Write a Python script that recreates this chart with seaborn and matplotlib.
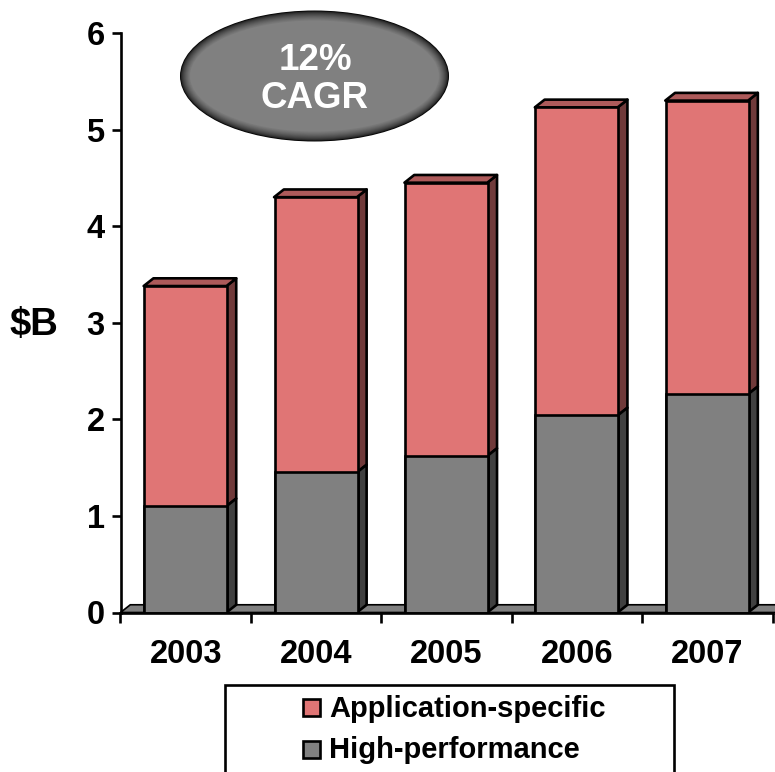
import matplotlib
matplotlib.use("Agg")
import matplotlib.pyplot as plt
from matplotlib.patches import Ellipse, Polygon, Rectangle
import numpy as np
import pandas as pd
import seaborn as sns

years = ["2003", "2004", "2005", "2006", "2007"]
high_performance = [1.10, 1.45, 1.62, 2.04, 2.26]
application_specific = [2.28, 2.85, 2.83, 3.19, 3.04]
y_ticks = [0, 1, 2, 3, 4, 5, 6]
series_names = ["Application-specific", "High-performance"]

PINK, PINK_TOP, PINK_SIDE = "#E07575", "#AD5A5A", "#703A3A"
GRAY, GRAY_TOP, GRAY_SIDE = "#808080", "#6E6E6E", "#404040"
BAR_W = 0.635
DX, DY = 0.075, 0.08   # extrusion of the pseudo-3D boxes, in data units
LW = 1.9

sns.set_theme(style="white")
plt.rcParams["font.family"] = ["Liberation Sans", "DejaVu Sans"]
plt.rcParams["font.weight"] = "bold"

df = pd.DataFrame({"year": years, "high": high_performance, "app": application_specific})
df["total"] = df["high"] + df["app"]

fig = plt.figure(figsize=(7.75, 7.72), dpi=100)
fig.patch.set_facecolor("white")
ax = fig.add_axes([120.5 / 775, 1 - 612.5 / 772, 652 / 775, 579.5 / 772])

# Floor strip running behind the columns
ax.add_patch(Polygon([(-0.5, 0), (-0.5 + DX, DY), (4.6, DY), (4.6, 0)], closed=True,
                     facecolor=GRAY, edgecolor="black", lw=1.2, zorder=1, clip_on=False))

sns.barplot(data=df, x="year", y="total", color=PINK, saturation=1, width=BAR_W,
            edgecolor="black", linewidth=LW, ax=ax, zorder=3)
sns.barplot(data=df, x="year", y="high", color=GRAY, saturation=1, width=BAR_W,
            edgecolor="black", linewidth=LW, ax=ax, zorder=4)


def extrude(x, y0, y1, top_col, side_col, with_top=True):
    """Draw the right side (and optionally the top) of a box centred on x."""
    r = x + BAR_W / 2 - 0.005
    l = x - BAR_W / 2 - 0.005
    ax.add_patch(Polygon([(r, y0), (r + DX, y0 + DY), (r + DX, y1 + DY), (r, y1)], closed=True,
                         facecolor=side_col, edgecolor="black", lw=LW, zorder=2.5,
                         joinstyle="round"))
    if with_top:
        ax.add_patch(Polygon([(l, y1), (l + DX, y1 + DY), (r + DX, y1 + DY), (r, y1)], closed=True,
                             facecolor=top_col, edgecolor="black", lw=LW, zorder=2.5,
                             joinstyle="round"))


for i, row in df.iterrows():
    extrude(i, row["high"], row["total"], PINK_TOP, PINK_SIDE)
    extrude(i, 0, row["high"], GRAY_TOP, GRAY_SIDE, with_top=False)

ax.set_xlim(-0.5, 4.5)
ax.set_ylim(0, 6)
ax.set_xlabel("")
ax.set_ylabel("")
for side in ("top", "right"):
    ax.spines[side].set_visible(False)
for side in ("left", "bottom"):
    ax.spines[side].set_linewidth(LW)
    ax.spines[side].set_color("black")
    ax.spines[side].set_zorder(6)

ax.set_yticks(y_ticks)
ax.set_yticklabels([str(t) for t in y_ticks], fontsize=23.5, fontweight="bold", color="black")
ax.tick_params(axis="y", left=True, length=6.5, width=LW, color="black", pad=5)

# Year labels sit between the tick marks
ax.set_xticks(np.arange(-0.5, 5.0, 1.0))
ax.set_xticklabels([])
ax.set_xticks(range(len(years)), minor=True)
ax.set_xticklabels(years, minor=True, fontsize=23.5, fontweight="bold", color="black")
ax.tick_params(axis="x", which="major", bottom=True, length=7, width=LW, color="black")
ax.tick_params(axis="x", which="minor", bottom=False, length=0, pad=19)

# Pixel-space layer for the callout, axis title and legend
ov = fig.add_axes([0, 0, 1, 1], facecolor="none")
ov.set_xlim(0, 775)
ov.set_ylim(772, 0)
ov.axis("off")

ov.text(33.5, 325, "\\$B", fontsize=27.5, fontweight="bold", ha="center", va="center", color="black")

# Callout: concentric ellipses fade from a black rim to the flat gray centre
cx, cy, w, h = 314.5, 76, 269, 131
steps = 12
for k in range(steps):
    f = k / (steps - 1)
    shade = 0.02 + (0.5 - 0.02) * f ** 0.55
    inset = 10 * f
    ov.add_patch(Ellipse((cx, cy), w - 2 * inset, h - 2 * inset,
                         facecolor=(shade, shade, shade), edgecolor="none", zorder=5 + k * 0.01))
ov.text(cx + 1, 60, "12%", fontsize=26.5, fontweight="bold", color="white",
        ha="center", va="center", zorder=6)
ov.text(cx + 0.5, 99, "CAGR", fontsize=26.5, fontweight="bold", color="white",
        ha="center", va="center", zorder=6)

# Legend box runs off the lower edge of the figure
ov.add_patch(Rectangle((224.5, 685), 449.5, 100, facecolor="white", edgecolor="black",
                       lw=LW, clip_on=True))
for name, col, yc in zip(series_names, [PINK, GRAY], [707.5, 749]):
    ov.add_patch(Rectangle((302.5, yc - 8.5), 17, 17, facecolor=col, edgecolor="black", lw=LW))
    ov.text(329, yc + 1.5, name, fontsize=21, fontweight="bold", color="black", ha="left", va="center")

fig.savefig("out.png", dpi=100, facecolor="white")
